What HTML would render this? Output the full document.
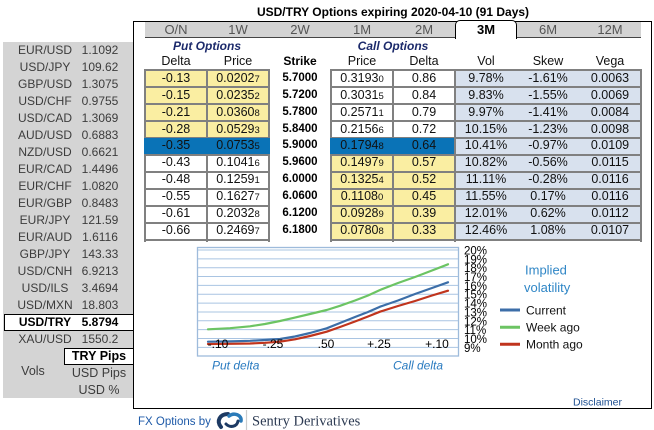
<!DOCTYPE html>
<html><head><meta charset="utf-8">
<style>
*{margin:0;padding:0;box-sizing:border-box}
body{width:654px;height:430px;background:#fff;position:relative;overflow:hidden;font-family:"Liberation Sans",Arial,sans-serif;color:#111}
.a{position:absolute}
.lp{position:absolute;left:3px;top:42px;width:130px;height:356px;background:#D4D4D4}
.pr{position:absolute;left:0;width:134px;height:17px;line-height:17px;font-size:12px;color:#3c3c3c}
.pr .n{position:absolute;left:4px;width:82px;text-align:center}
.pr .v{position:absolute;left:70px;width:60px;text-align:center}
.tab{position:absolute;top:21px;width:62px;height:17px;line-height:17px;text-align:center;font-size:13px;color:#555}
.r{position:absolute;left:0;width:654px;height:17px}
.r div{position:absolute;top:0;height:17px;line-height:17px;width:62px;text-align:center;font-size:12.5px;color:#111}
.r .c1{left:145px}.r .c2{left:207px}.r .c3{left:269px;font-weight:bold;font-size:11.5px;color:#000}.r .c4{left:331px}.r .c5{left:393px}.r .c6{left:455px}.r .c7{left:517px}.r .c8{left:579px}
small{font-size:9.5px}
.hl{position:absolute;height:2px;background:#808080}
.vl{position:absolute;width:2px;top:69px;height:173px;background:#808080}
</style></head><body>

<!-- title -->
<div class="a" style="left:0;top:4px;width:786px;text-align:center;font-weight:bold;font-size:12px;line-height:17px;color:#000">USD/TRY Options expiring 2020-04-10 (91 Days)</div>

<!-- left panel -->
<div class="lp"></div>
<div class="pr" style="top:42px"><span class="n">EUR/USD</span><span class="v">1.1092</span></div>
<div class="pr" style="top:59px"><span class="n">USD/JPY</span><span class="v">109.62</span></div>
<div class="pr" style="top:76px"><span class="n">GBP/USD</span><span class="v">1.3075</span></div>
<div class="pr" style="top:93px"><span class="n">USD/CHF</span><span class="v">0.9755</span></div>
<div class="pr" style="top:110px"><span class="n">USD/CAD</span><span class="v">1.3069</span></div>
<div class="pr" style="top:127px"><span class="n">AUD/USD</span><span class="v">0.6883</span></div>
<div class="pr" style="top:144px"><span class="n">NZD/USD</span><span class="v">0.6621</span></div>
<div class="pr" style="top:161px"><span class="n">EUR/CAD</span><span class="v">1.4496</span></div>
<div class="pr" style="top:178px"><span class="n">EUR/CHF</span><span class="v">1.0820</span></div>
<div class="pr" style="top:195px"><span class="n">EUR/GBP</span><span class="v">0.8483</span></div>
<div class="pr" style="top:212px"><span class="n">EUR/JPY</span><span class="v">121.59</span></div>
<div class="pr" style="top:229px"><span class="n">EUR/AUD</span><span class="v">1.6116</span></div>
<div class="pr" style="top:246px"><span class="n">GBP/JPY</span><span class="v">143.33</span></div>
<div class="pr" style="top:263px"><span class="n">USD/CNH</span><span class="v">6.9213</span></div>
<div class="pr" style="top:280px"><span class="n">USD/ILS</span><span class="v">3.4694</span></div>
<div class="pr" style="top:297px"><span class="n">USD/MXN</span><span class="v">18.803</span></div>
<div class="a" style="left:4px;top:314px;width:130px;height:17px;background:#fff;border:1.5px solid #000"></div>
<div class="pr" style="top:314px;color:#000;font-weight:bold"><span class="n">USD/TRY</span><span class="v">5.8794</span></div>
<div class="pr" style="top:331px"><span class="n">XAU/USD</span><span class="v">1550.2</span></div>
<div class="a" style="left:64px;top:348px;width:70px;height:17px;background:#fff;border:1.5px solid #000;text-align:center;line-height:14px;font-weight:bold;font-size:12.5px;color:#000">TRY Pips</div>
<div class="a" style="left:13px;top:363px;width:40px;text-align:center;font-size:12.5px;line-height:17px;color:#3c3c3c">Vols</div>
<div class="a" style="left:64px;top:365px;width:70px;text-align:center;font-size:12.5px;line-height:17px;color:#3c3c3c">USD Pips</div>
<div class="a" style="left:64px;top:382px;width:70px;text-align:center;font-size:12.5px;line-height:17px;color:#3c3c3c">USD %</div>

<!-- main box -->
<div class="a" style="left:133px;top:21px;width:519px;height:388px;border:1px solid #000;background:#fff"></div>

<!-- tabs -->
<div class="a" style="left:145px;top:22px;width:496px;height:16px;background:#D3D3D3;border-bottom:1px solid #444"></div>
<div class="a" style="left:455px;top:20px;width:62px;height:19px;background:#fff;border:1px solid #000;border-bottom:none;border-radius:5px 5px 0 0"></div>
<div class="tab" style="left:145px">O/N</div>
<div class="tab" style="left:207px">1W</div>
<div class="tab" style="left:269px">2W</div>
<div class="tab" style="left:331px">1M</div>
<div class="tab" style="left:393px">2M</div>
<div class="tab" style="left:455px;font-weight:bold;color:#000">3M</div>
<div class="tab" style="left:517px">6M</div>
<div class="tab" style="left:579px">12M</div>

<!-- section headers -->
<div class="a" style="left:145px;top:38px;width:124px;text-align:center;font-weight:bold;font-style:italic;font-size:12px;line-height:17px;color:#1c2a6b">Put Options</div>
<div class="a" style="left:331px;top:38px;width:124px;text-align:center;font-weight:bold;font-style:italic;font-size:12px;line-height:17px;color:#1c2a6b">Call Options</div>
<div class="r" style="top:53px">
<div class="c1">Delta</div><div class="c2">Price</div><div class="c3" style="font-size:12px">Strike</div><div class="c4">Price</div><div class="c5">Delta</div><div class="c6">Vol</div><div class="c7">Skew</div><div class="c8">Vega</div>
</div>

<!-- backgrounds -->
<div class="a" style="left:145px;top:70px;width:124px;height:68px;background:#FAEEA2"></div>
<div class="a" style="left:145px;top:154px;width:124px;height:86px;background:#fff"></div>
<div class="a" style="left:331px;top:70px;width:124px;height:68px;background:#fff"></div>
<div class="a" style="left:331px;top:154px;width:124px;height:86px;background:#FAEEA2"></div>
<div class="a" style="left:455px;top:70px;width:186px;height:170px;background:#D8E1EE"></div>

<!-- grid lines -->
<div class="hl" style="left:144px;width:126px;top:69px"></div>
<div class="hl" style="left:144px;width:126px;top:86px"></div>
<div class="hl" style="left:144px;width:126px;top:103px"></div>
<div class="hl" style="left:144px;width:126px;top:120px"></div>
<div class="hl" style="left:144px;width:126px;top:137px"></div>
<div class="hl" style="left:144px;width:126px;top:154px"></div>
<div class="hl" style="left:144px;width:126px;top:171px"></div>
<div class="hl" style="left:144px;width:126px;top:188px"></div>
<div class="hl" style="left:144px;width:126px;top:205px"></div>
<div class="hl" style="left:144px;width:126px;top:222px"></div>
<div class="hl" style="left:144px;width:126px;top:239px"></div>
<div class="hl" style="left:330px;width:312px;top:69px"></div>
<div class="hl" style="left:330px;width:312px;top:86px"></div>
<div class="hl" style="left:330px;width:312px;top:103px"></div>
<div class="hl" style="left:330px;width:312px;top:120px"></div>
<div class="hl" style="left:330px;width:312px;top:137px"></div>
<div class="hl" style="left:330px;width:312px;top:154px"></div>
<div class="hl" style="left:330px;width:312px;top:171px"></div>
<div class="hl" style="left:330px;width:312px;top:188px"></div>
<div class="hl" style="left:330px;width:312px;top:205px"></div>
<div class="hl" style="left:330px;width:312px;top:222px"></div>
<div class="hl" style="left:330px;width:312px;top:239px"></div>
<div class="vl" style="left:144px"></div>
<div class="vl" style="left:206px"></div>
<div class="vl" style="left:268px"></div>
<div class="vl" style="left:330px"></div>
<div class="vl" style="left:392px"></div>
<div class="vl" style="left:454px"></div>
<div class="vl" style="left:640px"></div>

<!-- ATM blue -->
<div class="a" style="left:144px;top:138px;width:126px;height:16px;background:#0A73B7"></div>
<div class="a" style="left:330px;top:138px;width:124px;height:16px;background:#0A73B7"></div>

<!-- rows -->
<div class="r" style="top:70px"><div class="c1">-0.13</div><div class="c2">0.0202<small>7</small></div><div class="c3">5.7000</div><div class="c4">0.3193<small>0</small></div><div class="c5">0.86</div><div class="c6">9.78%</div><div class="c7">-1.61%</div><div class="c8">0.0063</div></div>
<div class="r" style="top:87px"><div class="c1">-0.15</div><div class="c2">0.0235<small>2</small></div><div class="c3">5.7200</div><div class="c4">0.3031<small>5</small></div><div class="c5">0.84</div><div class="c6">9.83%</div><div class="c7">-1.55%</div><div class="c8">0.0069</div></div>
<div class="r" style="top:104px"><div class="c1">-0.21</div><div class="c2">0.0360<small>8</small></div><div class="c3">5.7800</div><div class="c4">0.2571<small>1</small></div><div class="c5">0.79</div><div class="c6">9.97%</div><div class="c7">-1.41%</div><div class="c8">0.0084</div></div>
<div class="r" style="top:121px"><div class="c1">-0.28</div><div class="c2">0.0529<small>3</small></div><div class="c3">5.8400</div><div class="c4">0.2156<small>6</small></div><div class="c5">0.72</div><div class="c6">10.15%</div><div class="c7">-1.23%</div><div class="c8">0.0098</div></div>
<div class="r" style="top:137px"><div class="c1">-0.35</div><div class="c2">0.0753<small>5</small></div><div class="c3">5.9000</div><div class="c4">0.1794<small>8</small></div><div class="c5">0.64</div><div class="c6">10.41%</div><div class="c7">-0.97%</div><div class="c8">0.0109</div></div>
<div class="r" style="top:154px"><div class="c1">-0.43</div><div class="c2">0.1041<small>6</small></div><div class="c3">5.9600</div><div class="c4">0.1497<small>9</small></div><div class="c5">0.57</div><div class="c6">10.82%</div><div class="c7">-0.56%</div><div class="c8">0.0115</div></div>
<div class="r" style="top:171px"><div class="c1">-0.48</div><div class="c2">0.1259<small>1</small></div><div class="c3">6.0000</div><div class="c4">0.1325<small>4</small></div><div class="c5">0.52</div><div class="c6">11.11%</div><div class="c7">-0.28%</div><div class="c8">0.0116</div></div>
<div class="r" style="top:188px"><div class="c1">-0.55</div><div class="c2">0.1627<small>7</small></div><div class="c3">6.0600</div><div class="c4">0.1108<small>0</small></div><div class="c5">0.45</div><div class="c6">11.55%</div><div class="c7">0.17%</div><div class="c8">0.0116</div></div>
<div class="r" style="top:205px"><div class="c1">-0.61</div><div class="c2">0.2032<small>8</small></div><div class="c3">6.1200</div><div class="c4">0.0928<small>9</small></div><div class="c5">0.39</div><div class="c6">12.01%</div><div class="c7">0.62%</div><div class="c8">0.0112</div></div>
<div class="r" style="top:222px"><div class="c1">-0.66</div><div class="c2">0.2469<small>7</small></div><div class="c3">6.1800</div><div class="c4">0.0780<small>8</small></div><div class="c5">0.33</div><div class="c6">12.46%</div><div class="c7">1.08%</div><div class="c8">0.0107</div></div>

<!-- chart, legend, footer -->
<svg class="a" style="left:0;top:0" width="654" height="430" viewBox="0 0 654 430" xmlns="http://www.w3.org/2000/svg" font-family="Liberation Sans, Arial, sans-serif">
<rect x="197.5" y="247.5" width="261" height="108.5" fill="#fff" stroke="#9EBBDB" stroke-width="1.3"/>
<g stroke="#A9C4E2" stroke-width="1">
<line x1="198" x2="458" y1="250" y2="250"/>
<line x1="198" x2="458" y1="258.85" y2="258.85"/>
<line x1="198" x2="458" y1="267.7" y2="267.7"/>
<line x1="198" x2="458" y1="276.55" y2="276.55"/>
<line x1="198" x2="458" y1="285.4" y2="285.4"/>
<line x1="198" x2="458" y1="294.25" y2="294.25"/>
<line x1="198" x2="458" y1="303.1" y2="303.1"/>
<line x1="198" x2="458" y1="311.95" y2="311.95"/>
<line x1="198" x2="458" y1="320.8" y2="320.8"/>
<line x1="198" x2="458" y1="329.65" y2="329.65"/>
<line x1="198" x2="458" y1="338.5" y2="338.5"/>
<line x1="198" x2="458" y1="347.35" y2="347.35"/>
</g>
<g fill="none" stroke-width="2.2" stroke-linejoin="round" stroke-linecap="round">
<polyline stroke="#6CC463" points="208,329.3 230,328.2 250,326.3 265,324 280,321 295,317.6 310,314 326.7,310 340,305.8 355,300.5 368,295.5 380,290 398,283 415,277 432,270.5 448,264.3"/>
<polyline stroke="#C0341D" points="208,344 230,343.8 250,343.5 265,342.8 280,341.7 295,339.3 310,336 326.7,331.7 340,327 355,321.5 368,316.5 380,311.7 398,306 415,301 432,295.5 448,290.7"/>
<polyline stroke="#3C6EA8" points="208,341.7 230,341.4 250,340.8 265,340 280,339 295,336.5 310,333 326.7,328.3 340,323 355,317 368,312 380,306.7 398,300.5 415,294 432,288 448,282.3"/>
</g>
<g font-size="12" fill="#000" text-anchor="middle">
<text x="218" y="348">-.10</text>
<text x="273" y="348">-.25</text>
<text x="326" y="348">.50</text>
<text x="379" y="348">+.25</text>
<text x="437" y="348">+.10</text>
</g>
<g font-size="11.5" fill="#000">
<text x="464" y="254.5">20%</text>
<text x="464" y="263.3">19%</text>
<text x="464" y="272.2">18%</text>
<text x="464" y="281">17%</text>
<text x="464" y="289.9">16%</text>
<text x="464" y="298.7">15%</text>
<text x="464" y="307.6">14%</text>
<text x="464" y="316.4">13%</text>
<text x="464" y="325.3">12%</text>
<text x="464" y="334.1">11%</text>
<text x="464" y="343">10%</text>
<text x="464" y="351.8">9%</text>
</g>
<g font-size="12" font-style="italic" fill="#2A7BC0">
<text x="212" y="369.5">Put delta</text>
<text x="393" y="369.5">Call delta</text>
</g>
<g font-size="13" fill="#2F86C6">
<text x="525" y="274.5">Implied</text>
<text x="524" y="292">volatility</text>
</g>
<line x1="500" x2="520" y1="310" y2="310" stroke="#3C6EA8" stroke-width="3"/>
<line x1="500" x2="520" y1="327.3" y2="327.3" stroke="#6CC463" stroke-width="3"/>
<line x1="500" x2="520" y1="344.3" y2="344.3" stroke="#C0341D" stroke-width="3"/>
<g font-size="12" fill="#111">
<text x="526" y="314.3">Current</text>
<text x="526" y="331.5">Week ago</text>
<text x="526" y="348.3">Month ago</text>
</g>
<text x="573" y="405.5" font-size="10.5" fill="#1d4f91">Disclaimer</text>
<text x="138" y="425" font-size="11.5" fill="#1E5AA8">FX Options by</text>
<path d="M221,427 C216,421 220,414 228,414" fill="none" stroke="#1d3a63" stroke-width="4" stroke-linecap="round"/>
<path d="M229,416 C234,412 242,415 241,421" fill="none" stroke="#2a7ab8" stroke-width="3.5" stroke-linecap="round"/>
<path d="M238,421 C237,427 230,428 226,424" fill="none" stroke="#1d3a63" stroke-width="3" stroke-linecap="round"/>
<line x1="246.5" x2="246.5" y1="410" y2="431" stroke="#cccccc" stroke-width="1.2"/>
<text x="252" y="425.5" font-size="14.5" fill="#2C3A52" font-family="Liberation Serif, serif">Sentry Derivatives</text>
</svg>
</body></html>
